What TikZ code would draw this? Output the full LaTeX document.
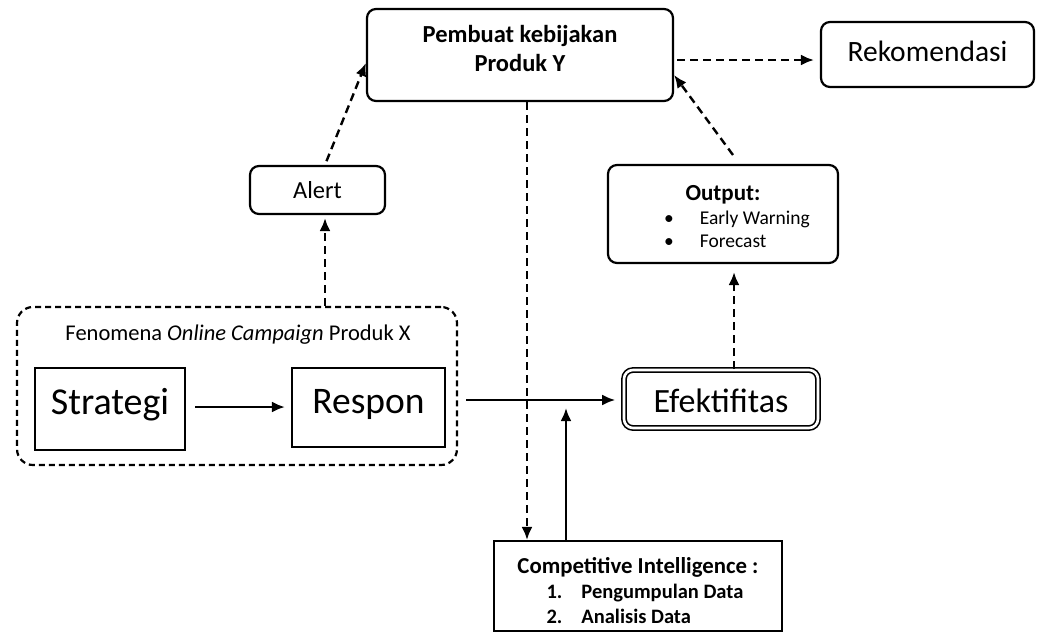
\documentclass[tikz,border=0pt]{standalone}
\usepackage{fontspec}
\setmainfont{Carlito}
\usetikzlibrary{arrows.meta}
\newcommand{\shiftup}[2]{\raisebox{#1}[\height][\depth]{#2}}
\begin{document}
\begin{tikzpicture}[x=1pt,y=-1pt,
  box/.style={draw,line width=2.2pt,rounded corners=9pt,inner sep=0pt,align=center},
  sqbox/.style={draw,line width=2.2pt,inner sep=0pt,align=center},
  dconn/.style={line width=2.4pt,dash pattern=on 8pt off 5pt,-{Latex[length=13pt,width=11pt]}},
  sconn/.style={line width=2.4pt,-{Latex[length=13pt,width=11pt]}}
]
\useasboundingbox (0,0) rectangle (1045,633);

% nodes
\node[box,font=\fontsize{24.5}{29}\selectfont\bfseries,minimum width=306pt,minimum height=92pt] (pem) at (520,55)
  {\shiftup{3.5pt}{\begin{tabular}{@{}c@{}}Pembuat kebijakan\\Produk Y\end{tabular}}};
\node[box,font=\fontsize{29.5}{34}\selectfont,minimum width=213pt,minimum height=65pt] (rek) at (927.5,54.5) {\shiftup{3pt}{Rekomendasi}};
\node[box,font=\fontsize{24.5}{28}\selectfont,minimum width=135pt,minimum height=48pt] (alert) at (317.5,190) {Alert};
\node[box,font=\fontsize{19.5}{23}\selectfont,minimum width=230pt,minimum height=98pt] (out) at (723,214)
  {\shiftup{-5pt}{\begin{tabular}{@{}c@{}}
   {\fontsize{23}{27}\selectfont\bfseries Output:}\\[1pt]
   \hspace*{28pt}\begin{tabular}{@{}l@{\hspace{26pt}}l@{}}
   \textbullet & Early Warning\\
   \textbullet & Forecast
   \end{tabular}
   \end{tabular}}};
\node[draw,line width=2.2pt,dash pattern=on 6pt off 4pt,rounded corners=16pt,
  minimum width=440pt,minimum height=158pt,inner sep=0pt] (grp) at (237,386) {};
\node[font=\fontsize{22.5}{26}\selectfont,inner sep=0pt] (fen) at (238,335) {Fenomena \textit{Online Campaign} Produk X};
\node[sqbox,font=\fontsize{38}{44}\selectfont,minimum width=150pt,minimum height=82pt] (str) at (110,409) {\shiftup{4pt}{Strategi}};
\node[sqbox,font=\fontsize{37.5}{44}\selectfont,minimum width=153pt,minimum height=79pt] (res) at (368.5,407.5) {\shiftup{3pt}{Respon}};
\node[draw,line width=1.6pt,double,double distance=2.6pt,rounded corners=9pt,font=\fontsize{34}{40}\selectfont,
  minimum width=194pt,minimum height=58pt,inner sep=0pt] (efe) at (721,399) {\shiftup{-2pt}{Efektifitas}};
\node[sqbox,font=\fontsize{20.5}{25}\selectfont\bfseries,minimum width=288pt,minimum height=90pt] (ci) at (638,586)
  {\shiftup{-7pt}{\begin{tabular}{@{}c@{}}
   {\fontsize{22.8}{26}\selectfont Competitive Intelligence :}\\
   \hspace*{14pt}\begin{tabular}{@{}l@{\hspace{19pt}}l@{}}
   1. & Pengumpulan Data\\
   2. & Analisis Data
   \end{tabular}
   \end{tabular}}};

% helper coordinates
\coordinate (j) at (566,408);
\coordinate (outtop) at (733,155);

% connectors
\draw[sconn,shorten <=9pt,shorten >=6pt] (str.east |- 0,407) -- (res.west |- 0,407);
\draw[sconn,shorten <=8pt,shorten >=8pt] (grp.east |- 0,400) -- (efe.west |- 0,400);
\draw[sconn] (ci.north -| j) -- (j);
\draw[dconn] (pem.south -| 527,0) -- (ci.north -| 527,0);
\draw[dconn,shorten >=8pt] (efe.north -| 734,0) -- (out.south -| 734,0);
\draw[dconn] (outtop) -- (pem.east |- 0,75);
\draw[dconn,shorten <=3pt,shorten >=6pt] (pem.east |- 0,60) -- (rek.west |- 0,60);
\draw[dconn,shorten <=4pt] (alert.north -| 325,0) -- (pem.west |- 0,63);
\draw[dconn,shorten >=3pt] (grp.north -| 325,0) -- (alert.south -| 325,0);
\end{tikzpicture}
\end{document}
